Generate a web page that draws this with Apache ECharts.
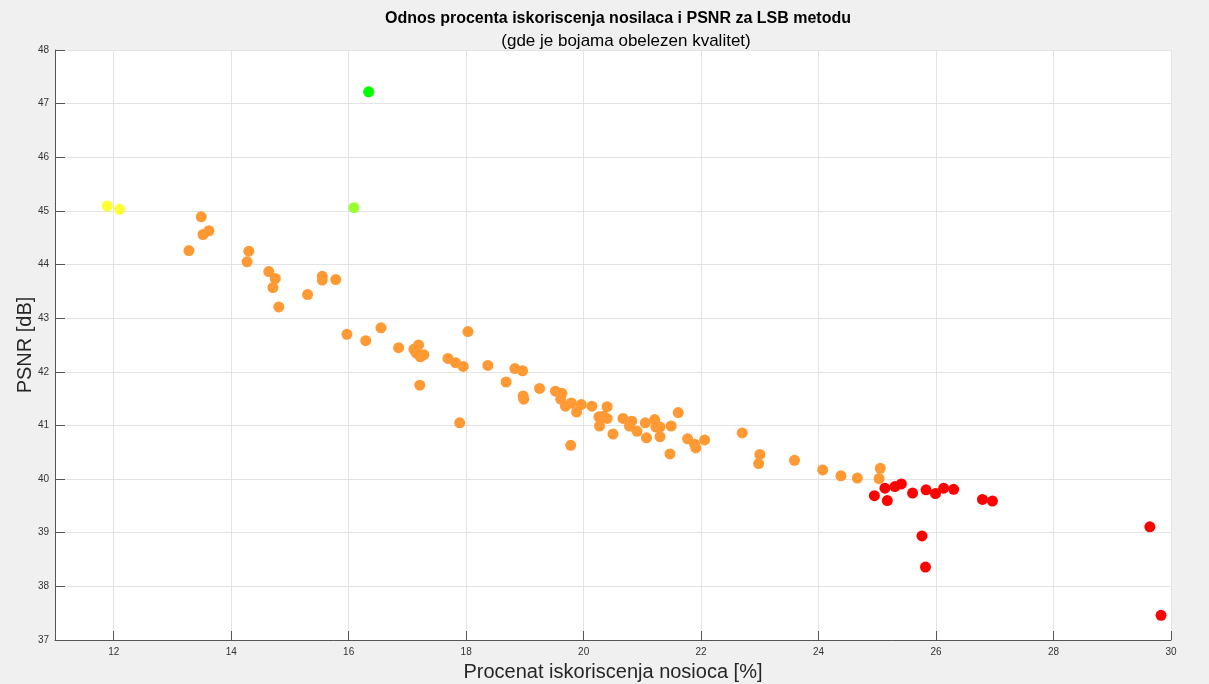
<!DOCTYPE html>
<html>
<head>
<meta charset="utf-8">
<script src="https://cdn.jsdelivr.net/npm/echarts@6/dist/echarts.min.js"></script>
<style>
  html, body { margin: 0; padding: 0; background: #f0f0f0; }
  #chart { width: 1209px; height: 684px; }
</style>
</head>
<body>
<div id="chart"></div>
<script>
// [procenat iskoriscenja, PSNR] po boji kvaliteta
var yellowPts = [[11.89, 45.09], [12.10, 45.03]];
var limePts = [[16.09, 45.06]];
var greenPts = [[16.34, 47.22]];
var orangePts = [
  [13.49, 44.89], [13.62, 44.63], [13.52, 44.56], [13.28, 44.26], [14.30, 44.25],
  [14.27, 44.05], [14.64, 43.87], [14.75, 43.74], [14.71, 43.57], [14.81, 43.21],
  [15.30, 43.44], [15.55, 43.78], [15.55, 43.71], [15.78, 43.72], [15.97, 42.70],
  [16.55, 42.82], [16.29, 42.58], [16.85, 42.45], [17.11, 42.42], [17.19, 42.50],
  [17.15, 42.35], [17.28, 42.32], [17.22, 42.28], [17.21, 41.75], [17.69, 42.25],
  [17.82, 42.17], [17.95, 42.10], [18.03, 42.75], [17.89, 41.05], [18.37, 42.12],
  [18.68, 41.81], [18.83, 42.06], [18.96, 42.02], [18.97, 41.55], [18.98, 41.49],
  [19.25, 41.69], [19.52, 41.64], [19.63, 41.60], [19.61, 41.49], [19.69, 41.36],
  [19.79, 41.42], [19.96, 41.39], [19.88, 41.25], [19.78, 40.63], [20.14, 41.36],
  [20.40, 41.35], [20.26, 41.16], [20.34, 41.17], [20.40, 41.13], [20.27, 40.99],
  [20.50, 40.84], [20.67, 41.13], [20.82, 41.08], [20.78, 40.99], [20.91, 40.89],
  [21.05, 41.05], [21.07, 40.77], [21.21, 41.11], [21.23, 40.97], [21.30, 40.97],
  [21.30, 40.79], [21.49, 40.99], [21.61, 41.24], [21.47, 40.47], [21.77, 40.75],
  [21.89, 40.65], [21.91, 40.58], [22.06, 40.73], [22.70, 40.86], [23.00, 40.46],
  [22.98, 40.29], [23.59, 40.35], [24.07, 40.17], [24.38, 40.06], [24.66, 40.02],
  [25.05, 40.20], [25.03, 40.01]
];
var redPts = [
  [24.95, 39.69], [25.13, 39.83], [25.17, 39.60], [25.30, 39.86], [25.41, 39.91],
  [25.60, 39.74], [25.83, 39.80], [25.99, 39.73], [26.13, 39.83], [26.30, 39.81],
  [26.79, 39.62], [26.96, 39.59], [29.64, 39.11], [29.83, 37.46], [25.76, 38.94],
  [25.82, 38.36]
];
var xTicks = [12, 14, 16, 18, 20, 22, 24, 26, 28, 30];

var chart = echarts.init(document.getElementById('chart'));

function pts(name, data, color) {
  return {
    name: name,
    type: 'scatter',
    data: data,
    symbolSize: 11,
    itemStyle: { color: color, opacity: 1 },
    emphasis: { disabled: true }
  };
}

var axisCol = '#555555';
var labelCol = '#333333';
var font = 'Liberation Sans, Arial, Helvetica, sans-serif';

var option = {
  backgroundColor: '#f0f0f0',
  animation: false,
  title: [{
    text: 'Odnos procenta iskoriscenja nosilaca i PSNR za LSB metodu',
    left: 613, top: 6, textAlign: 'center',
    textStyle: { fontSize: 16, fontWeight: 'bold', color: '#000', fontFamily: font }
  }, {
    text: '(gde je bojama obelezen kvalitet)',
    left: 621, top: 28, textAlign: 'center',
    textStyle: { fontSize: 17, fontWeight: 'normal', color: '#000', fontFamily: font }
  }],
  grid: {
    left: 55, right: 38, top: 50, bottom: 44,
    outerBoundsMode: 'none',
    containLabel: false,
    show: true, backgroundColor: '#ffffff', borderWidth: 0
  },
  xAxis: {
    type: 'value',
    min: 11, max: 30,
    name: 'Procenat iskoriscenja nosioca [%]',
    nameLocation: 'middle',
    nameGap: 22,
    nameTextStyle: { fontSize: 20, color: '#262626', fontFamily: font },
    axisLine: { show: true, onZero: false, lineStyle: { color: axisCol, width: 1 } },
    axisTick: { show: true, inside: true, length: 9, customValues: xTicks, lineStyle: { color: axisCol } },
    axisLabel: { customValues: xTicks, fontSize: 10, color: labelCol, margin: 7, fontFamily: font },
    splitLine: { show: true, lineStyle: { color: '#e3e3e3', width: 1 } }
  },
  yAxis: {
    type: 'value',
    min: 37, max: 48, interval: 1,
    name: 'PSNR [dB]',
    nameLocation: 'middle',
    nameGap: 20,
    nameMoveOverlap: false,
    nameTextStyle: { fontSize: 20, color: '#262626', fontFamily: font },
    axisLine: { show: true, onZero: false, lineStyle: { color: axisCol, width: 1 } },
    axisTick: { show: true, inside: true, length: 10, lineStyle: { color: axisCol } },
    axisLabel: { fontSize: 10, color: labelCol, margin: 6, fontFamily: font },
    splitLine: { show: true, lineStyle: { color: '#e3e3e3', width: 1 } }
  },
  series: [
    pts('yellow', yellowPts, '#ffff33'),
    pts('lime', limePts, '#99ff33'),
    pts('green', greenPts, '#00ff00'),
    pts('orange', orangePts, '#ff9933'),
    pts('red', redPts, '#ff0000')
  ]
};

chart.setOption(option);
</script>
</body>
</html>
